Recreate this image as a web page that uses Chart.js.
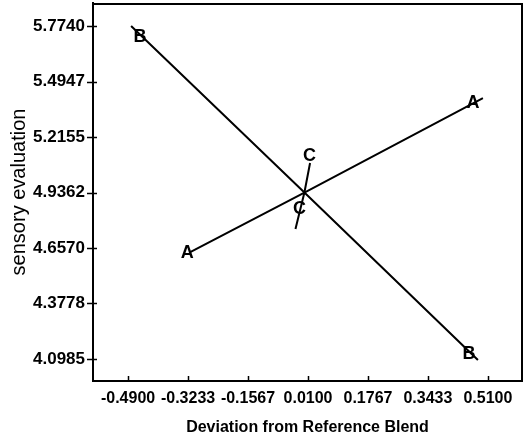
<!DOCTYPE html>
<html>
<head>
<meta charset="utf-8">
<script src="https://cdn.jsdelivr.net/npm/chart.js@4/dist/chart.umd.min.js"></script>
<style>
  html, body { margin: 0; padding: 0; background: #fff; }
  #wrap { width: 531px; height: 443px; }
</style>
</head>
<body>
<div id="wrap"><canvas id="c" width="531" height="443"></canvas></div>
<script>
// Trace plot: response along each component direction from the reference blend
const xTickValues = [-0.49, -0.3233, -0.1567, 0.01, 0.1767, 0.3433, 0.51];
const xTickLabels = ['-0.4900', '-0.3233', '-0.1567', '0.0100', '0.1767', '0.3433', '0.5100'];
const yTickValues = [5.774, 5.4947, 5.2155, 4.9362, 4.657, 4.3778, 4.0985];
const yTickLabels = ['5.7740', '5.4947', '5.2155', '4.9362', '4.6570', '4.3778', '4.0985'];

// Component traces (deviation, response)
const traceA_x = [-0.3173, 0.0, 0.4961];
const traceA_y = [4.6366, 4.9362, 5.4116];
const traceB_x = [-0.4816, 0.0, 0.4822];
const traceB_y = [5.7740, 4.9362, 4.0931];
const traceC_x = [-0.0248, 0.0, 0.0157];
const traceC_y = [4.7523, 4.9362, 5.0845];

// Letters marking each trace
const markNames = ['A', 'A', 'B', 'B', 'C', 'C'];
const markX = [-0.3257, 0.4682, -0.4566, 0.4571, -0.0137, 0.0142];
const markY = [4.6316, 5.3865, 5.7187, 4.1233, 4.8530, 5.1198];

const toPoints = (xs, ys) => xs.map((x, i) => ({ x, y: ys[i] }));

const lineStyle = {
  borderColor: '#000',
  borderWidth: 2,
  pointRadius: 0,
  fill: false,
  tension: 0
};

const FONT = '"Liberation Sans", Arial, sans-serif';

const frameAndTicks = {
  id: 'frameAndTicks',
  afterDraw(chart) {
    const { ctx, chartArea: a, scales } = chart;
    ctx.save();
    ctx.fillStyle = '#000';
    // top and right edges of the frame
    ctx.fillRect(a.left - 1, a.top, a.right - a.left + 1, 2);
    ctx.fillRect(a.right - 1, a.top, 2, a.bottom - a.top + 1);
    // tick marks
    ctx.strokeStyle = '#000';
    ctx.lineWidth = 1.5;
    ctx.beginPath();
    xTickValues.forEach(v => {
      const px = Math.round(scales.x.getPixelForValue(v)) + 0.5;
      ctx.moveTo(px, a.bottom);
      ctx.lineTo(px, a.bottom - 5);
    });
    yTickValues.forEach(v => {
      const py = Math.round(scales.y.getPixelForValue(v)) + 0.5;
      ctx.moveTo(a.left - 6, py);
      ctx.lineTo(a.left + 4, py);
    });
    ctx.stroke();
    // trace letters
    ctx.font = 'bold 18px ' + FONT;
    ctx.textAlign = 'center';
    ctx.textBaseline = 'middle';
    markNames.forEach((t, i) => {
      ctx.fillText(t, scales.x.getPixelForValue(markX[i]), scales.y.getPixelForValue(markY[i]));
    });
    ctx.restore();
  }
};

new Chart(document.getElementById('c'), {
  type: 'line',
  data: {
    datasets: [
      Object.assign({ label: 'A', data: toPoints(traceA_x, traceA_y) }, lineStyle),
      Object.assign({ label: 'B', data: toPoints(traceB_x, traceB_y) }, lineStyle),
      Object.assign({ label: 'C', data: toPoints(traceC_x, traceC_y) }, lineStyle)
    ]
  },
  options: {
    responsive: false,
    animation: false,
    layout: { padding: { top: 3, right: 9, left: 0, bottom: 0 } },
    plugins: { legend: { display: false }, tooltip: { enabled: false } },
    scales: {
      x: {
        type: 'linear',
        min: -0.5875,
        max: 0.6047,
        afterBuildTicks: s => { s.ticks = xTickValues.map(v => ({ value: v })); },
        afterFit: s => { s.height = 62; s.paddingLeft = 0; s.paddingRight = 0; },
        grid: { display: false },
        border: { display: true, color: '#000', width: 2 },
        ticks: {
          autoSkip: false,
          maxRotation: 0,
          padding: 0,
          color: '#000',
          font: { family: FONT, size: 16, weight: 'bold' },
          callback: (v, i) => xTickLabels[i]
        },
        title: {
          display: true,
          text: 'Deviation from Reference Blend',
          color: '#000',
          font: { family: FONT, size: 16, weight: 'bold' },
          padding: { top: 0, bottom: 6 }
        }
      },
      y: {
        type: 'linear',
        min: 3.9878,
        max: 5.8898,
        afterBuildTicks: s => { s.ticks = yTickValues.map(v => ({ value: v })); },
        afterFit: s => { s.width = 93; s.paddingTop = 0; s.paddingBottom = 0; },
        grid: { display: false },
        border: { display: true, color: '#000', width: 2 },
        ticks: {
          autoSkip: false,
          padding: 0,
          color: '#000',
          font: { family: FONT, size: 17, weight: 'bold' },
          callback: (v, i) => yTickLabels[i]
        },
        title: {
          display: true,
          text: 'sensory evaluation',
          color: '#000',
          font: { family: FONT, size: 20 },
          padding: { top: 7, bottom: 0 }
        }
      }
    }
  },
  plugins: [frameAndTicks]
});
</script>
</body>
</html>
